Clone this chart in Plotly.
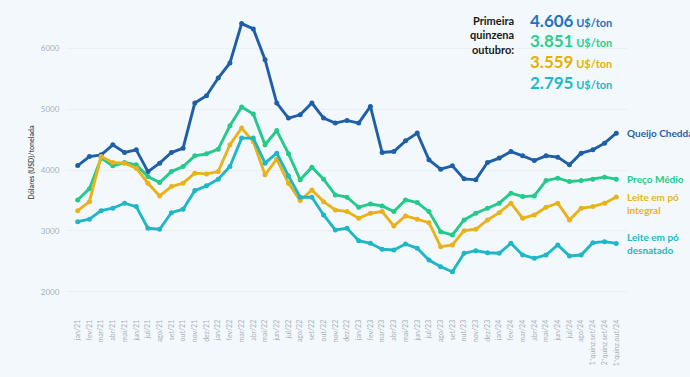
import plotly.graph_objects as go

meses = ["jan", "fev", "mar", "abr", "mai", "jun", "jul", "ago", "set", "out", "nov", "dez"]
categorias = []
for ano in [21, 22, 23, 24]:
    for m in meses:
        categorias.append(f"{m}/{ano}")
categorias = categorias[:44] + ["1ªquinz.set/24", "2ªquinz.set/24", "1ªquinz.out/24"]

queijo_cheddar = [4075, 4223, 4251, 4416, 4289, 4333, 3976, 4114, 4289, 4361,
                  5102, 5222, 5513, 5760, 6407, 6320, 5815, 5102, 4855, 4909,
                  5102, 4855, 4773, 4816, 4773, 5047, 4289, 4305, 4481, 4608,
                  4169, 4015, 4070, 3856, 3840, 4124, 4197, 4305, 4235, 4157,
                  4235, 4213, 4086, 4279, 4333, 4443, 4606]
preco_medio = [3510, 3695, 4197, 4070, 4124, 4086, 3894, 3795, 3976, 4059,
               4235, 4267, 4344, 4728, 5036, 4921, 4416, 4650, 4270, 3840,
               4048, 3851, 3593, 3555, 3390, 3444, 3412, 3318, 3510, 3466,
               3318, 2989, 2934, 3181, 3291, 3374, 3456, 3621, 3565, 3576,
               3828, 3867, 3812, 3828, 3851, 3884, 3851]
leite_integral = [3334, 3482, 4223, 4124, 4114, 4032, 3785, 3576, 3729, 3785,
                  3950, 3938, 3976, 4416, 4690, 4470, 3922, 4180, 3785, 3499,
                  3675, 3482, 3346, 3318, 3209, 3291, 3318, 3082, 3247, 3193,
                  3137, 2742, 2770, 3005, 3028, 3181, 3301, 3456, 3209, 3263,
                  3390, 3456, 3181, 3374, 3400, 3456, 3559]
leite_desnatado = [3153, 3193, 3334, 3374, 3456, 3400, 3044, 3028, 3301, 3357,
                   3663, 3741, 3851, 4059, 4526, 4526, 4114, 4279, 3905, 3555,
                   3555, 3263, 3016, 3044, 2840, 2798, 2699, 2687, 2786, 2715,
                   2523, 2412, 2330, 2633, 2676, 2643, 2633, 2798, 2605, 2550,
                   2605, 2770, 2588, 2605, 2807, 2824, 2795]

nomes = ["Queijo Cheddar", "Preço Médio", "Leite em pó<br>integral", "Leite em pó<br>desnatado"]
series = [queijo_cheddar, preco_medio, leite_integral, leite_desnatado]
cores = ["#1f5fa8", "#25c98a", "#eab21a", "#1fb6c6"]
cores_texto = ["#1f72c2", "#28d08e", "#e6b000", "#20b8c8"]
valores_destaque = ["4.606", "3.851", "3.559", "2.795"]

W, H = 690, 377
ML, MR, MT, MB = 66, 62, 21, 73
PW, PH = W - ML - MR, H - MT - MB

def px_x(p):
    return (p - ML) / PW

def px_y(p):
    return (H - MB - p) / PH

x = list(range(len(categorias)))
fig = go.Figure()
for nome, ys, cor in zip(nomes, series, cores):
    fig.add_trace(go.Scatter(
        x=x, y=ys, mode="lines+markers", name=nome,
        line=dict(color=cor, width=2.9),
        marker=dict(color=cor, size=5),
        showlegend=False, cliponaxis=False,
    ))

# end labels
label_y = [queijo_cheddar[-1], preco_medio[-1], leite_integral[-1] - 110, leite_desnatado[-1]]
for nome, yv, cor in zip(nomes, label_y, cores):
    fig.add_annotation(x=x[-1], y=yv, xref="x", yref="y", text=f"<b>{nome}</b>",
                       showarrow=False, xanchor="left", yanchor="middle", xshift=9,
                       align="left",
                       font=dict(family="Lato, Open Sans, sans-serif", size=10, color=cor))

# header block
fig.add_annotation(x=px_x(516), y=px_y(12), xref="paper", yref="paper",
                   text="<b>Primeira<br>quinzena<br>outubro:</b>", showarrow=False,
                   xanchor="right", yanchor="top", align="right",
                   font=dict(family="Lato, Open Sans, sans-serif", size=11, color="#1a1a1a"))
centros = [20.5, 41, 61.5, 82]
for v, cor, ty in zip(valores_destaque, cores_texto, centros):
    fig.add_annotation(x=px_x(528), y=px_y(ty), xref="paper", yref="paper",
                       text=f"<b><span style='font-size:17px'>{v}</span> <span style='font-size:11px'>U$/ton</span></b>",
                       showarrow=False, xanchor="left", yanchor="middle", align="left",
                       font=dict(family="Lato, Open Sans, sans-serif", size=11, color=cor))

fig.update_layout(
    width=W, height=H,
    margin=dict(l=ML, r=MR, t=MT, b=MB),
    paper_bgcolor="#f3f8fc",
    plot_bgcolor="#f3f8fc",
    font=dict(family="Lato, Open Sans, sans-serif"),
)
fig.update_xaxes(
    range=[-1, 47], tickmode="array", tickvals=x, ticktext=categorias,
    tickangle=-90, tickfont=dict(size=7, color="#a9b0b8"),
    showgrid=False, zeroline=False, showline=False,
    ticks="outside", ticklen=12, tickcolor="rgba(0,0,0,0)",
)
fig.update_yaxes(
    range=[1800, 6450], tickvals=[2000, 3000, 4000, 5000, 6000],
    tickfont=dict(size=8, color="#a9b0b8"),
    showgrid=True, gridcolor="rgba(215,225,235,0.35)", zeroline=False, showline=False,
    ticks="outside", ticklen=4, tickcolor="rgba(0,0,0,0)",
    title=dict(text="<b>Dólares (USD)/tonelada</b>", font=dict(size=7, color="#555a60"), standoff=5),
)

fig.write_html("out.html")
